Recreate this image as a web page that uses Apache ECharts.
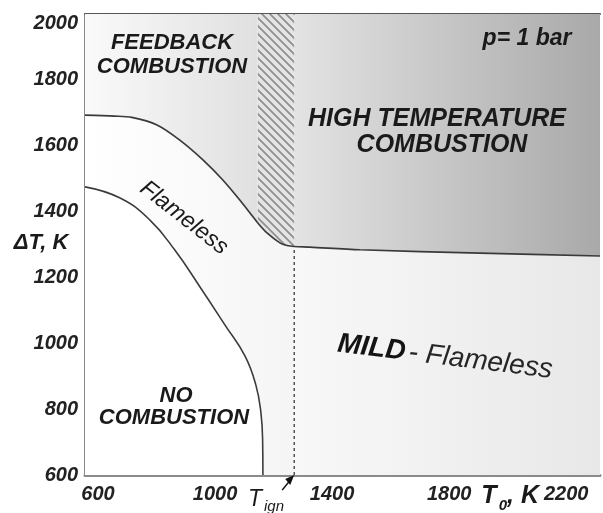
<!DOCTYPE html>
<html>
<head>
<meta charset="utf-8">
<script src="https://cdn.jsdelivr.net/npm/echarts@6/dist/echarts.min.js"></script>
<style>
  html, body { margin: 0; padding: 0; background: #fff; }
  #chart { width: 603px; height: 513px; }
</style>
</head>
<body>
<div id="chart"></div>
<script>
// Combustion regimes map: inlet temperature T0 versus temperature rise ΔT (p = 1 bar)
const xRange = [600, 2360];
const xStep = 400;
const yRange = [600, 2000];
const yStep = 200;

// Boundary above which combustion is self-sustained (feedback / high temperature)
const upperBoundary = [
  [600, 1693], [700, 1690], [760, 1686], [846, 1663], [924, 1617],
  [1003, 1557], [1071, 1496], [1129, 1435], [1174, 1384], [1190, 1366],
  [1222, 1335], [1266, 1305], [1290, 1297], [1315, 1294], [1368, 1292],
  [1540, 1284], [1950, 1274], [2360, 1265]
];

// Boundary below which there is no combustion
const lowerBoundary = [
  [600, 1475], [720, 1441], [822, 1374], [907, 1283], [993, 1171],
  [1078, 1056], [1147, 961], [1184, 873], [1201, 791], [1207, 706],
  [1208, 600]
];

const feedbackLimit = 1190;   // left edge of the transition band
const ignitionTemp = 1315;    // T_ign

const FONT = '"Liberation Sans", Arial, Helvetica, sans-serif';

function segment(points, from, to) {
  return points.filter(p => p[0] >= from && p[0] <= to);
}
function valueAt(points, x) {
  const p = points.find(q => q[0] === x);
  return p ? p[1] : null;
}

// Diagonal hatching for the transition band
function hatchPattern() {
  const s = 8;
  const c = document.createElement('canvas');
  c.width = s; c.height = s;
  const g = c.getContext('2d');
  g.fillStyle = '#e4e4e4';
  g.fillRect(0, 0, s, s);
  g.strokeStyle = '#8e8e8e';
  g.lineWidth = 1.7;
  g.beginPath();
  g.moveTo(-1, -1); g.lineTo(s + 1, s + 1);
  g.moveTo(-1, s - 1); g.lineTo(1, s + 1);
  g.moveTo(s - 1, -1); g.lineTo(s + 1, 1);
  g.stroke();
  return c;
}

const hGrad = (a, b) => new echarts.graphic.LinearGradient(0, 0, 1, 0, [
  { offset: 0, color: a }, { offset: 1, color: b }
]);

const labelStyle = {
  fontFamily: FONT, fontWeight: 'bold', fontStyle: 'italic', fontSize: 20, color: '#222'
};

const chart = echarts.init(document.getElementById('chart'), null, { renderer: 'canvas' });

const areaBase = {
  type: 'line', symbol: 'none', smooth: 0.3, silent: true,
  lineStyle: { width: 0 }
};

chart.setOption({
  animation: false,
  backgroundColor: '#ffffff',
  grid: { left: 85, right: 3, top: 14, bottom: 38, containLabel: false },
  xAxis: [{
    type: 'value', min: xRange[0], max: xRange[1], interval: xStep,
    axisLine: { show: true, lineStyle: { color: '#8a8a8a', width: 3 } },
    axisTick: { show: true, inside: true, length: 5, lineStyle: { color: '#8a8a8a', width: 1.2 } },
    axisLabel: Object.assign({
      showMaxLabel: false, margin: 9, padding: [0, 0, 0, 26],
      formatter: v => String(v)
    }, labelStyle),
    splitLine: { show: false }
  }, {
    type: 'value', position: 'top', min: xRange[0], max: xRange[1],
    axisLine: { show: true, lineStyle: { color: '#555', width: 2 } },
    axisTick: { show: false }, axisLabel: { show: false }, splitLine: { show: false }
  }],
  yAxis: {
    type: 'value', min: yRange[0], max: yRange[1], interval: yStep,
    axisLine: { show: true, lineStyle: { color: '#8a8a8a', width: 2 } },
    axisTick: { show: true, inside: true, length: 5, lineStyle: { color: '#8a8a8a', width: 1.2 } },
    axisLabel: Object.assign({
      margin: 7,
      formatter: v => (v === yRange[1] ? '{low|' + v + '}' : String(v)),
      rich: { low: Object.assign({ padding: [18, 0, 0, 0] }, labelStyle) }
    }, labelStyle),
    splitLine: { show: false }
  },
  series: [
    Object.assign({}, areaBase, {
      name: 'high temperature', z: 1,
      data: segment(upperBoundary, ignitionTemp, xRange[1]),
      areaStyle: { origin: 'end', opacity: 1, color: hGrad('#e3e3e3', '#a9a9a9') }
    }),
    Object.assign({}, areaBase, {
      name: 'transition', z: 1,
      data: segment(upperBoundary, feedbackLimit, ignitionTemp),
      areaStyle: { origin: 'end', opacity: 1, color: { image: hatchPattern(), repeat: 'repeat' } }
    }),
    Object.assign({}, areaBase, {
      name: 'feedback', z: 1,
      data: segment(upperBoundary, xRange[0], feedbackLimit),
      areaStyle: { origin: 'end', opacity: 1, color: hGrad('#fafafa', '#e0e0e0') }
    }),
    Object.assign({}, areaBase, {
      name: 'mild', z: 1,
      data: segment(upperBoundary, ignitionTemp, xRange[1]),
      areaStyle: { origin: 'start', opacity: 1, color: hGrad('#f8f8f8', '#e8e8e8') }
    }),
    Object.assign({}, areaBase, {
      name: 'flameless', z: 1,
      data: segment(upperBoundary, xRange[0], ignitionTemp),
      areaStyle: { origin: 'start', opacity: 1, color: hGrad('#ffffff', '#f5f5f5') }
    }),
    Object.assign({}, areaBase, {
      name: 'no combustion', z: 2, smooth: 0.45,
      data: lowerBoundary,
      areaStyle: { origin: 'start', opacity: 1, color: '#ffffff' }
    }),
    {
      type: 'line', name: 'upper boundary', z: 5, symbol: 'none', smooth: 0.3, silent: true,
      data: upperBoundary, lineStyle: { color: '#3a3a3a', width: 1.7 }
    },
    {
      type: 'line', name: 'lower boundary', z: 5, symbol: 'none', smooth: 0.45, silent: true,
      data: lowerBoundary, lineStyle: { color: '#3c3c3c', width: 1.6 }
    },
    {
      type: 'line', name: 'ignition', z: 5, symbol: 'none', silent: true,
      data: [[ignitionTemp, yRange[0]], [ignitionTemp, valueAt(upperBoundary, ignitionTemp)]],
      lineStyle: { color: '#3a3a3a', width: 1.3, type: [3, 3] }
    }
  ]
});

// Annotations
const tip = chart.convertToPixel({ xAxisIndex: 0, yAxisIndex: 0 }, [ignitionTemp, yRange[0]]);
const txt = (text, x, y, size, opts) => ({
  type: 'text', x: x, y: y, z: 20, silent: true,
  rotation: (opts && opts.rotation) || 0,
  style: Object.assign({
    text: text, fill: '#1a1a1a', align: 'center', verticalAlign: 'middle',
    fontStyle: 'italic', fontWeight: (opts && opts.weight) || 'bold', fontSize: size, fontFamily: FONT
  }, (opts && opts.style) || {})
});

chart.setOption({
  graphic: [
    txt('FEEDBACK', 172, 43, 22),
    txt('COMBUSTION', 172, 67, 22),
    txt('p= 1 bar', 527, 39, 23),
    txt('HIGH TEMPERATURE', 437, 119, 25),
    txt('COMBUSTION', 442, 145, 25),
    txt('NO', 176, 396, 22),
    txt('COMBUSTION', 174, 418, 22),
    txt('Flameless', 184, 218, 23, { weight: 'normal', rotation: -38 * Math.PI / 180 }),
    {
      type: 'text', x: 445, y: 357, z: 20, silent: true, rotation: -7 * Math.PI / 180,
      style: {
        text: '{b|MILD} {r|- Flameless}', align: 'center', verticalAlign: 'middle',
        rich: {
          b: { fontFamily: FONT, fontSize: 28, fontWeight: 'bold', fontStyle: 'italic', fill: '#141414' },
          r: { fontFamily: FONT, fontSize: 28, fontWeight: 'normal', fontStyle: 'italic', fill: '#262626' }
        }
      }
    },
    txt('ΔT, K', 41, 243, 22),
    txt('T', 489, 496, 25),
    txt('0', 503, 506, 15),
    txt(', K', 523, 496, 25),
    txt('T', 255, 500, 23, { weight: 'normal' }),
    txt('ign', 274, 507, 15, { weight: 'normal' }),
    {
      type: 'line', z: 20, silent: true,
      shape: { x1: tip[0] - 12, y1: tip[1] + 15, x2: tip[0] - 3, y2: tip[1] + 4 },
      style: { stroke: '#111', lineWidth: 1.4 }
    },
    {
      type: 'polygon', z: 20, silent: true,
      shape: { points: [[tip[0], tip[1]], [tip[0] - 9, tip[1] + 4], [tip[0] - 4, tip[1] + 10]] },
      style: { fill: '#111' }
    }
  ]
});
</script>
</body>
</html>
